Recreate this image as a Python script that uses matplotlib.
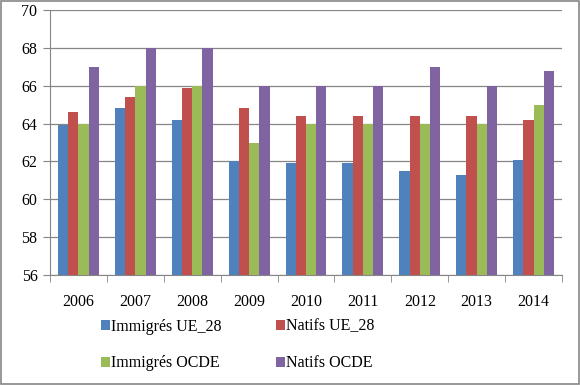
import numpy as np
import matplotlib
matplotlib.use("Agg")
import matplotlib.pyplot as plt
from matplotlib.patches import Rectangle

years = ["2006", "2007", "2008", "2009", "2010", "2011", "2012", "2013", "2014"]
immigres_ue28 = [63.9, 64.8, 64.2, 62.0, 61.9, 61.9, 61.5, 61.3, 62.1]
natifs_ue28 = [64.6, 65.4, 65.9, 64.8, 64.4, 64.4, 64.4, 64.4, 64.2]
immigres_ocde = [64.0, 66.0, 66.0, 63.0, 64.0, 64.0, 64.0, 64.0, 65.0]
natifs_ocde = [67.0, 68.0, 68.0, 66.0, 66.0, 66.0, 67.0, 66.0, 66.8]

series = [
    ("Immigrés UE_28", immigres_ue28, "#4F81BD"),
    ("Natifs UE_28", natifs_ue28, "#C0504D"),
    ("Immigrés OCDE", immigres_ocde, "#9BBB59"),
    ("Natifs OCDE", natifs_ocde, "#8064A2"),
]

plt.rcParams['font.family'] = ['Liberation Serif', 'DejaVu Serif']

fig = plt.figure(figsize=(5.8, 3.85), dpi=100)
ax = fig.add_axes([50/580, 110/385, 512/580, 265/385])

x = np.arange(len(years))
w = 0.18
handles = []
for i, (name, vals, col) in enumerate(series):
    b = ax.bar(x + (i - 1.5) * w, np.array(vals) - 56, bottom=56, width=w,
               color=col, label=name, zorder=3)
    handles.append(b)

ax.set_xlim(-0.5, len(years) - 0.5)
ax.set_ylim(56, 70)
ax.set_yticks(range(56, 71, 2))
ax.set_xticks(x)
ax.set_xticklabels(years)
ax.set_xticks(np.arange(-0.5, len(years)), minor=True)
ax.tick_params(axis='x', which='major', length=0, labelsize=11.5, pad=14)
ax.tick_params(axis='x', which='minor', length=5, color='#868686')
ax.tick_params(axis='y', length=5, color='#868686', labelsize=11.5, pad=4)
ax.yaxis.grid(True, color='#868686', linewidth=0.9, zorder=0)
for s in ['top', 'right']:
    ax.spines[s].set_visible(False)
for s in ['left', 'bottom']:
    ax.spines[s].set_color('#868686')

# legend rows: UE_28 pair on top, OCDE pair below
order = [0, 2, 1, 3]
fig.legend([handles[k] for k in order], [series[k][0] for k in order],
           loc='center', bbox_to_anchor=(0.41, 0.104), ncol=2, frameon=False,
           fontsize=11.5, handlelength=0.55, handleheight=0.55, handletextpad=0.1,
           columnspacing=3.4, labelspacing=1.3)

fig.patches.append(Rectangle((0.002, 0.003), 0.996, 0.994, transform=fig.transFigure,
                             fill=False, edgecolor='#868686', linewidth=1.2))

fig.savefig("out.png", dpi=100)
